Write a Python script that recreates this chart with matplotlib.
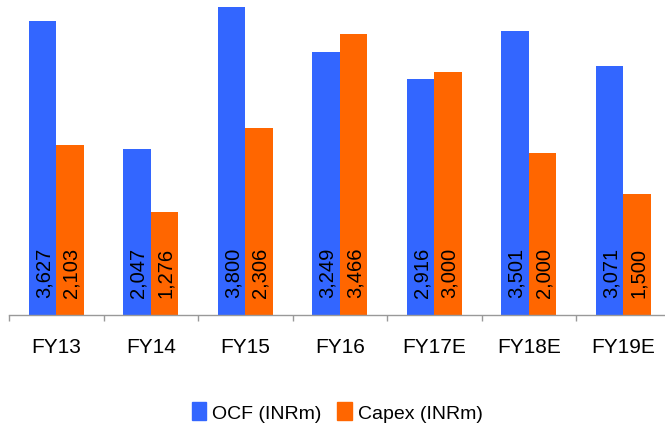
import matplotlib
matplotlib.use("Agg")
import matplotlib.pyplot as plt
import numpy as np
from matplotlib.patches import Patch

categories = ["FY13", "FY14", "FY15", "FY16", "FY17E", "FY18E", "FY19E"]
ocf = [3627, 2047, 3800, 3249, 2916, 3501, 3071]
capex = [2103, 1276, 2306, 3466, 3000, 2000, 1500]
series_names = ["OCF (INRm)", "Capex (INRm)"]

blue = "#3366FF"
orange = "#FF6600"

plt.rcParams['font.family'] = ['Liberation Sans', 'DejaVu Sans']

W, H = 665, 427
fig = plt.figure(figsize=(W / 100, H / 100), dpi=100)
px = 0.081  # pixels per unit
base_y = 316
left = 9
cat_w = 94.5
ax = fig.add_axes([left / W, (H - base_y) / H, 7 * cat_w / W, base_y / H])
ax.set_xlim(0, 7)
ax.set_ylim(0, base_y / px)

x = np.arange(len(categories)) + 0.5
bw = 0.29
b1 = ax.bar(x - bw / 2, ocf, bw, color=blue)
b2 = ax.bar(x + bw / 2, capex, bw, color=orange)

for bars, vals in ((b1, ocf), (b2, capex)):
    for rect, v in zip(bars, vals):
        ax.annotate(f"{v:,}", xy=(rect.get_x() + rect.get_width() / 2, 0),
                    xytext=(1, 13), textcoords="offset points",
                    rotation=90, ha="center", va="bottom", fontsize=14.5,
                    color="black")

for s in ("top", "right", "left"):
    ax.spines[s].set_visible(False)
ax.spines["bottom"].set_color("#999999")
ax.spines["bottom"].set_linewidth(1.0)
ax.set_yticks([])
ax.set_xticks(x)
ax.set_xticklabels(categories, fontsize=15)
ax.tick_params(axis="x", which="major", length=0, pad=16)
ax.set_xticks(np.arange(0, 8), minor=True)
ax.tick_params(axis="x", which="minor", length=4.5, color="#999999", width=1.0)

handles = [Patch(color=blue), Patch(color=orange)]
fig.legend(handles, series_names, loc="center", bbox_to_anchor=(0.507, 14 / H),
           ncol=2, frameon=False, fontsize=14, handlelength=0.75,
           handleheight=1.0, handletextpad=0.3, columnspacing=0.8)

fig.savefig("out.png", dpi=100)
